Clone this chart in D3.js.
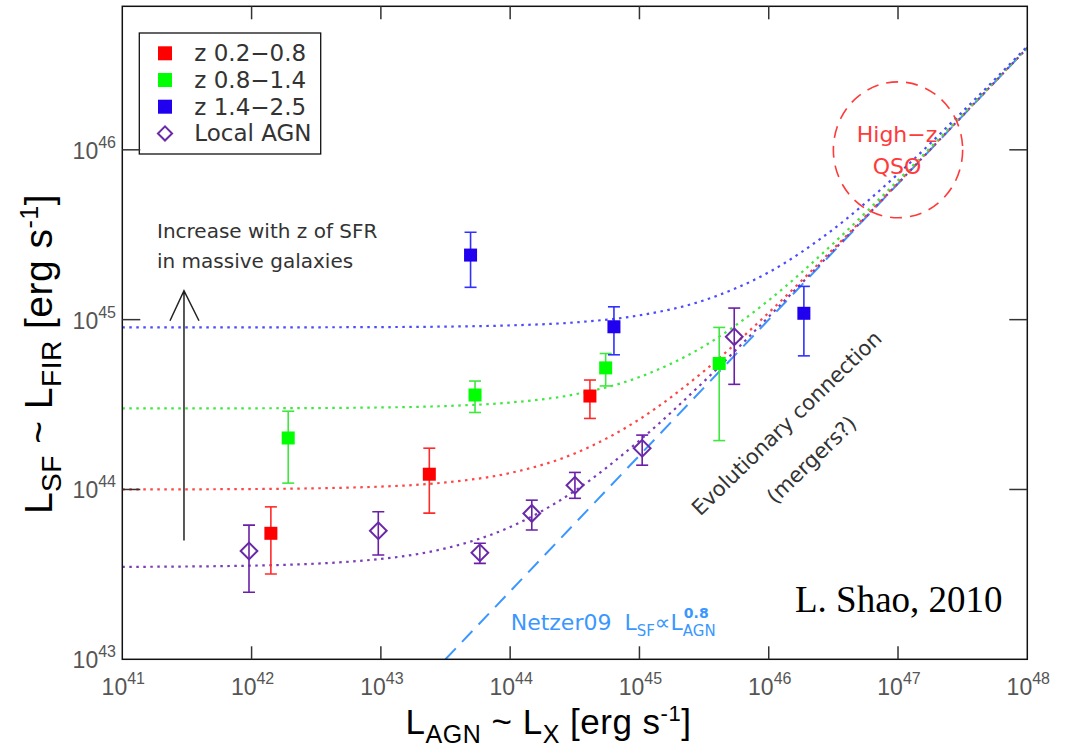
<!DOCTYPE html>
<html>
<head>
<meta charset="utf-8">
<script src="https://cdn.jsdelivr.net/npm/d3@7"></script>
<style>
body { margin: 0; background: #fff; }
svg { display: block; }
</style>
</head>
<body>
<svg id="chart" width="1068" height="752"></svg>
<script>
var svg = d3.select('#chart');

//-----------------------------------------------------------------------------
// axis decades (exponents of ten)
var xTickExp = [41, 42, 43, 44, 45, 46, 47, 48];
var yTickExp = [43, 44, 45, 46];

var legendLabels = ['z 0.2\u22120.8', 'z 0.8\u22121.4', 'z 1.4\u22122.5', 'Local AGN'];

// binned points: L_AGN, L_SF, top and bottom of the error bar
var redX  = [1.41e42, 2.37e43, 4.14e44];
var redY  = [5.52e43, 1.23e44, 3.55e44];
var redHi = [7.9e43, 1.75e44, 4.41e44];
var redLo = [3.18e43, 7.26e43, 2.62e44];

var greenX  = [1.92e42, 5.35e43, 5.48e44, 4.14e45];
var greenY  = [2.01e44, 3.6e44, 5.2e44, 5.52e44];
var greenHi = [2.89e44, 4.35e44, 6.32e44, 9.0e44];
var greenLo = [1.09e44, 2.84e44, 4.07e44, 1.94e44];

var blueX  = [4.94e43, 6.35e44, 1.87e46];
var blueY  = [2.4e45, 9.08e44, 1.09e45];
var blueHi = [3.27e45, 1.19e45, 1.57e45];
var blueLo = [1.55e45, 6.21e44, 6.12e44];

var localX  = [9.55e41, 9.55e42, 5.83e43, 1.47e44, 3.17e44, 1.05e45, 5.41e45];
var localY  = [4.34e43, 5.71e43, 4.24e43, 7.23e43, 1.06e44, 1.75e44, 7.93e44];
var localHi = [6.17e43, 7.4e43, 4.82e43, 8.65e43, 1.26e44, 2.09e44, 1.17e45];
var localLo = [2.48e43, 4.11e43, 3.67e43, 5.77e43, 8.87e43, 1.39e44, 4.16e44];

// dotted model curves, read at half decades of L_AGN
var curveX      = [1e41, 1e42, 1e43, 3.16e43, 1e44, 3.16e44, 1e45, 3.16e45, 1e46, 3.16e46, 1e47, 3.16e47, 1e48];
var curveRed    = [1.0e44, 1.006e44, 1.04e44, 1.10e44, 1.25e44, 1.63e44, 2.59e44, 4.98e44, 1.10e45, 2.61e45, 6.41e45, 1.60e46, 3.99e46];
var curveGreen  = [3.0e44, 3.006e44, 3.04e44, 3.10e44, 3.25e44, 3.63e44, 4.59e44, 6.98e44, 1.30e45, 2.81e45, 6.61e45, 1.62e46, 4.01e46];
var curveBlue   = [9.0e44, 9.006e44, 9.04e44, 9.10e44, 9.25e44, 9.63e44, 1.06e45, 1.30e45, 1.90e45, 3.41e45, 7.21e45, 1.68e46, 4.07e46];
var curveLocal  = [3.5e43, 3.56e43, 3.9e43, 4.5e43, 6.01e43, 9.81e43, 1.94e44, 4.33e44, 1.04e45, 2.55e45, 6.35e45, 1.59e46, 3.98e46];

// Netzer09 relation  L_SF ~ L_AGN^0.8
var netzerX = [3.16e43, 1e48];
var netzerY = [1e43, 3.98e46];

//-----------------------------------------------------------------------------
var plot = {left: 122.3, right: 1027.3, top: 6.3, bottom: 659.3};

var x = d3.scaleLog().domain([1e41, 1e48]).range([plot.left, plot.right]);
var y = d3.scaleLog().domain([1e43, 7e46]).range([plot.bottom, plot.top]);

var sans = "'Liberation Sans', Arial, Helvetica, sans-serif";
var hershey = "'DejaVu Sans', 'Noto Sans', sans-serif";

svg.append('defs').append('clipPath').attr('id', 'clip')
    .append('rect')
    .attr('x', plot.left).attr('y', plot.top)
    .attr('width', plot.right - plot.left)
    .attr('height', plot.bottom - plot.top);

var plotG = svg.append('g').attr('clip-path', 'url(#clip)');

//-----------------------------------------------------------------------------
var line = d3.line()
    .x(function(d) { return x(d[0]); })
    .y(function(d) { return y(d[1]); })
    .curve(d3.curveMonotoneX);

var curves = [
    {ys: curveLocal, color: '#7a3db8'},
    {ys: curveRed, color: '#ff4545'},
    {ys: curveGreen, color: '#3ee83e'},
    {ys: curveBlue, color: '#4b4bff'}
];

plotG.append('path')
    .datum(d3.zip(netzerX, netzerY))
    .attr('d', d3.line().x(function(d) { return x(d[0]); }).y(function(d) { return y(d[1]); }))
    .attr('fill', 'none')
    .attr('stroke', '#3b97ff')
    .attr('stroke-width', 2)
    .attr('stroke-dasharray', '15,9');

curves.forEach(function(c) {
    plotG.append('path')
        .datum(d3.zip(curveX, c.ys))
        .attr('d', line)
        .attr('fill', 'none')
        .attr('stroke', c.color)
        .attr('stroke-width', 2.2)
        .attr('stroke-dasharray', '2.5,4.5');
});

//-----------------------------------------------------------------------------
function drawGroup(xs, ys, his, los, barColor, fill, marker) {
    var pts = xs.map(function(v, i) { return {x: v, y: ys[i], hi: his[i], lo: los[i]}; });
    var g = plotG.append('g');

    g.selectAll('.bar').data(pts).enter().append('line')
        .attr('x1', function(d) { return x(d.x); })
        .attr('x2', function(d) { return x(d.x); })
        .attr('y1', function(d) { return y(d.hi); })
        .attr('y2', function(d) { return y(d.lo); })
        .attr('stroke', barColor).attr('stroke-width', 1.6);

    ['hi', 'lo'].forEach(function(k) {
        g.selectAll('.cap-' + k).data(pts).enter().append('line')
            .attr('x1', function(d) { return x(d.x) - 6; })
            .attr('x2', function(d) { return x(d.x) + 6; })
            .attr('y1', function(d) { return y(d[k]); })
            .attr('y2', function(d) { return y(d[k]); })
            .attr('stroke', barColor).attr('stroke-width', 1.6);
    });

    if (marker == 'square') {
        g.selectAll('.pt').data(pts).enter().append('rect')
            .attr('x', function(d) { return x(d.x) - 6.5; })
            .attr('y', function(d) { return y(d.y) - 6.5; })
            .attr('width', 13).attr('height', 13)
            .attr('fill', fill);
    } else {
        g.selectAll('.pt').data(pts).enter().append('path')
            .attr('d', d3.symbol().type(d3.symbolSquare).size(140))
            .attr('transform', function(d) { return 'translate(' + x(d.x) + ',' + y(d.y) + ') rotate(45)'; })
            .attr('fill', 'none')
            .attr('stroke', fill)
            .attr('stroke-width', 2);
    }
}

drawGroup(localX, localY, localHi, localLo, '#6a1fa8', '#6a2aa8', 'diamond');
drawGroup(redX, redY, redHi, redLo, '#ff2a2a', '#ff0000', 'square');
drawGroup(greenX, greenY, greenHi, greenLo, '#3ee83e', '#00ff00', 'square');
drawGroup(blueX, blueY, blueHi, blueLo, '#3030ff', '#2000ee', 'square');

//-----------------------------------------------------------------------------
// High-z QSO circle
var qsoCx = x(1e47), qsoCy = y(1e46);
svg.append('ellipse')
    .attr('cx', qsoCx).attr('cy', qsoCy)
    .attr('rx', x(Math.pow(10, 47.5)) - qsoCx)
    .attr('ry', qsoCy - y(Math.pow(10, 46.4)))
    .attr('fill', 'none')
    .attr('stroke', '#ff3a3a')
    .attr('stroke-width', 1.6)
    .attr('stroke-dasharray', '12,8');

svg.selectAll('.qso').data(['High\u2212z', 'QSO']).enter().append('text')
    .attr('x', qsoCx - 1)
    .attr('y', function(d, i) { return qsoCy - 8 + i * 32; })
    .attr('text-anchor', 'middle')
    .style('font-family', hershey).style('font-size', '22px')
    .attr('fill', '#ff3a3a')
    .text(function(d) { return d; });

// arrow: increase with z
var arrowX = 3e41;
var ax = x(arrowX), ayTop = y(1.48e45), ayBot = y(5.0e43);
svg.append('path')
    .attr('d', 'M' + ax + ',' + ayBot + 'V' + ayTop + 'M' + (ax - 14) + ',' + (ayTop + 30) + 'L' + ax + ',' + ayTop + 'L' + (ax + 15) + ',' + (ayTop + 30))
    .attr('fill', 'none').attr('stroke', '#222').attr('stroke-width', 1.5);

svg.selectAll('.incr').data(['Increase with z of SFR', 'in massive galaxies']).enter().append('text')
    .attr('x', 157)
    .attr('y', function(d, i) { return 237.7 + i * 30.6; })
    .style('font-family', hershey).style('font-size', '20px')
    .attr('fill', '#333')
    .text(function(d) { return d; });

// evolutionary connection
[['Evolutionary connection', 786.7, 423.3], ['(mergers?)', 811.7, 460]].forEach(function(t) {
    svg.append('text')
        .attr('transform', 'translate(' + t[1] + ',' + t[2] + ') rotate(-44)')
        .attr('text-anchor', 'middle')
        .attr('dominant-baseline', 'central')
        .style('font-family', hershey).style('font-size', '21px')
        .attr('fill', '#333')
        .text(t[0]);
});

// Netzer09 label
var nz = svg.append('text')
    .attr('x', 510.7).attr('y', 630)
    .style('font-family', hershey).style('font-size', '22px')
    .attr('fill', '#3b97ff');
nz.append('tspan').text('Netzer09');
nz.append('tspan').attr('dx', 13).text('L');
nz.append('tspan').attr('dy', 6).style('font-size', '15px').text('SF');
nz.append('tspan').attr('dy', -6).text('\u221dL');
nz.append('tspan').attr('dy', 6).style('font-size', '15px').text('AGN');
// index of the "A" of AGN in the whole label
var agnStart = nz.node().getStartPositionOfChar(13).x;
svg.append('text')
    .attr('x', agnStart + 1).attr('y', 617.7)
    .style('font-family', hershey).style('font-size', '14px').style('font-weight', 'bold')
    .attr('fill', '#3b97ff')
    .text('0.8');

svg.append('text')
    .attr('x', 795).attr('y', 611.7)
    .style('font-family', "'Liberation Serif', 'Times New Roman', serif")
    .style('font-size', '37px')
    .attr('fill', '#000')
    .text('L. Shao, 2010');

//-----------------------------------------------------------------------------
// legend
var legend = svg.append('g');
legend.append('rect')
    .attr('x', 139.3).attr('y', 33).attr('width', 181.4).attr('height', 121)
    .attr('fill', '#fff').attr('stroke', '#111').attr('stroke-width', 1.3);

var legendColors = ['#ff0000', '#00ff00', '#2000ee', '#6a2aa8'];
legendLabels.forEach(function(lab, i) {
    var cy = 53.3 + i * 26.7;
    if (i < 3) {
        legend.append('rect')
            .attr('x', 158).attr('y', cy - 7).attr('width', 14).attr('height', 14)
            .attr('fill', legendColors[i]);
    } else {
        legend.append('path')
            .attr('d', d3.symbol().type(d3.symbolSquare).size(100))
            .attr('transform', 'translate(165,' + cy + ') rotate(45)')
            .attr('fill', 'none').attr('stroke', legendColors[i]).attr('stroke-width', 2);
    }
    legend.append('text')
        .attr('x', 194.3).attr('y', cy + 8)
        .style('font-family', hershey).style('font-size', '23px')
        .attr('fill', '#333')
        .text(lab);
});

//-----------------------------------------------------------------------------
// frame and ticks
svg.append('rect')
    .attr('x', plot.left).attr('y', plot.top)
    .attr('width', plot.right - plot.left).attr('height', plot.bottom - plot.top)
    .attr('fill', 'none').attr('stroke', '#111').attr('stroke-width', 1.5);

var tickG = svg.append('g').attr('stroke', '#333').attr('stroke-width', 1.5);
xTickExp.slice(1, -1).forEach(function(e) {
    var px = x(Math.pow(10, e));
    tickG.append('line').attr('x1', px).attr('x2', px).attr('y1', plot.bottom).attr('y2', plot.bottom - 13);
    tickG.append('line').attr('x1', px).attr('x2', px).attr('y1', plot.top).attr('y2', plot.top + 13);
});
yTickExp.slice(1).forEach(function(e) {
    var py = y(Math.pow(10, e));
    tickG.append('line').attr('y1', py).attr('y2', py).attr('x1', plot.left).attr('x2', plot.left + 18);
    tickG.append('line').attr('y1', py).attr('y2', py).attr('x1', plot.right).attr('x2', plot.right - 18);
});

xTickExp.forEach(function(e) {
    var t = svg.append('text')
        .attr('x', x(Math.pow(10, e)) + 1).attr('y', 695)
        .attr('text-anchor', 'middle')
        .style('font-family', sans).attr('fill', '#555');
    t.append('tspan').style('font-size', '23px').text('10');
    t.append('tspan').attr('dy', -11).style('font-size', '16px').text(e);
});

yTickExp.forEach(function(e) {
    var t = svg.append('text')
        .attr('x', 116).attr('y', y(Math.pow(10, e)) + 9)
        .attr('text-anchor', 'end')
        .style('font-family', sans).attr('fill', '#555');
    t.append('tspan').style('font-size', '23px').text('10');
    t.append('tspan').attr('dy', -11).style('font-size', '16px').text(e);
});

//-----------------------------------------------------------------------------
// axis titles
function title(sel, parts) {
    parts.forEach(function(p) {
        sel.append('tspan')
            .attr('dy', p[2])
            .style('font-size', p[1] + 'px')
            .text(p[0]);
    });
}

var xTitle = svg.append('text')
    .attr('x', 548.5).attr('y', 734)
    .attr('text-anchor', 'middle')
    .style('font-family', sans).style('letter-spacing', '0.5px').attr('fill', '#000');
title(xTitle, [['L', 35, 0], ['AGN', 25, 9], [' ~ L', 35, -9], ['X', 25, 9], [' [erg s', 35, -9], ['-1', 22, -13], [']', 35, 13]]);

var yTitle = svg.append('text')
    .attr('transform', 'translate(52,354) rotate(-90)')
    .attr('text-anchor', 'middle')
    .style('font-family', sans).style('letter-spacing', '0.5px').attr('fill', '#000');
title(yTitle, [['L', 39, 0], ['SF', 28, 9], [' ~ L', 39, -9], ['FIR', 28, 9], [' [erg s', 39, -9], ['-1', 25, -14], [']', 39, 14]]);
</script>
</body>
</html>
